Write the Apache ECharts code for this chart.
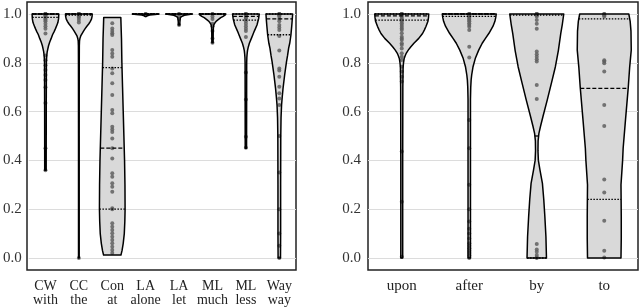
<!DOCTYPE html>
<html><head><meta charset="utf-8">
<script src="https://cdn.jsdelivr.net/npm/echarts@6/dist/echarts.min.js"></script>
<style>html,body{margin:0;padding:0;background:#fff}#c{width:640px;height:308px}</style>
</head><body><div id="c"></div>
<script>
// ---------- DATA ----------
const leftCategories = ['CW\nwith', 'CC\nthe', 'Con\nat', 'LA\nalone', 'LA\nlet', 'ML\nmuch', 'ML\nless', 'Way\nway'];
const rightCategories = ['upon', 'after', 'by', 'to'];

// violin density profiles: [value, relative density]
const profileCW = [[1.0,1],[0.98,0.98],[0.965,0.93],[0.955,0.86],[0.94,0.75],[0.927,0.64],[0.915,0.53],[0.9,0.43],[0.885,0.32],[0.87,0.23],[0.855,0.17],[0.845,0.13],[0.83,0.1],[0.815,0.08],[0.8,0.07],[0.6,0.06],[0.36,0.055]];
const profileCC = [[1.0,1],[0.99,0.99],[0.98,0.95],[0.97,0.86],[0.96,0.75],[0.95,0.6],[0.94,0.47],[0.93,0.35],[0.92,0.24],[0.91,0.14],[0.9,0.08],[0.89,0.05],[0.87,0.035],[0.8,0.03],[0.5,0.025],[0.0,0.025]];
const profileCon = [[0.986,0.64],[0.95,0.66],[0.9,0.69],[0.8,0.72],[0.7,0.77],[0.6,0.82],[0.5,0.87],[0.4,0.92],[0.3,0.95],[0.2,0.96],[0.15,0.94],[0.1,0.9],[0.06,0.82],[0.03,0.73],[0.012,0.65]];
const profileLAalone = [[1.0,1],[0.998,0.7],[0.996,0.3],[0.993,0.12],[0.99,0.05]];
const profileLAlet = [[1.0,1],[0.998,0.75],[0.995,0.4],[0.99,0.18],[0.985,0.1],[0.975,0.07],[0.955,0.05]];
const profileMLmuch = [[1.0,1],[0.995,0.93],[0.99,0.8],[0.985,0.62],[0.98,0.5],[0.975,0.38],[0.97,0.28],[0.965,0.2],[0.96,0.14],[0.955,0.1],[0.945,0.07],[0.93,0.055],[0.9,0.05],[0.882,0.045]];
const profileMLless = [[1.0,1],[0.98,0.95],[0.955,0.83],[0.93,0.63],[0.915,0.52],[0.9,0.41],[0.88,0.26],[0.865,0.18],[0.85,0.12],[0.835,0.09],[0.82,0.07],[0.8,0.06],[0.6,0.055],[0.45,0.05]];
const profileWay = [[1.0,1],[0.97,0.96],[0.95,0.93],[0.914,0.87],[0.88,0.78],[0.86,0.7],[0.83,0.62],[0.805,0.54],[0.75,0.4],[0.695,0.28],[0.66,0.22],[0.627,0.17],[0.574,0.13],[0.5,0.11],[0.3,0.1],[0.1,0.1],[0.0,0.09]];

const profileUpon = [[1.0,1],[0.985,0.99],[0.97,0.97],[0.95,0.9],[0.935,0.84],[0.92,0.77],[0.9,0.63],[0.88,0.45],[0.865,0.33],[0.852,0.24],[0.84,0.17],[0.83,0.13],[0.818,0.09],[0.8,0.065],[0.78,0.05],[0.7,0.04],[0.4,0.035],[0.0,0.035]];
const profileAfter = [[1.0,1],[0.985,0.98],[0.97,0.95],[0.95,0.88],[0.921,0.73],[0.9,0.6],[0.88,0.48],[0.852,0.35],[0.82,0.23],[0.784,0.14],[0.75,0.09],[0.73,0.07],[0.7,0.055],[0.65,0.045],[0.5,0.045],[0.0,0.045]];
const profileBy = [[1.0,1],[0.96,0.95],[0.921,0.89],[0.85,0.8],[0.784,0.69],[0.72,0.55],[0.648,0.39],[0.58,0.23],[0.54,0.14],[0.511,0.08],[0.48,0.05],[0.44,0.045],[0.4,0.06],[0.36,0.12],[0.306,0.21],[0.24,0.26],[0.17,0.3],[0.087,0.34],[0.0,0.36]];
const profileTo = [[1.0,0.91],[0.97,0.96],[0.93,0.99],[0.852,1.0],[0.78,0.94],[0.7,0.89],[0.57,0.79],[0.45,0.7],[0.4,0.68],[0.3,0.62],[0.17,0.63],[0.08,0.63],[0.0,0.62]];

// quartiles: [Q1, median, Q3]
const quartilesCW = [0.986, 1.0, 1.0];
const quartilesCC = [0.995, 1.0, 1.0];
const quartilesCon = [0.2, 0.45, 0.78];
const quartilesLAalone = [1.0, 1.0, 1.0];
const quartilesLAlet = [1.0, 1.0, 1.0];
const quartilesMLmuch = [1.0, 1.0, 1.0];
const quartilesMLless = [0.975, 0.99, 1.0];
const quartilesWay = [0.915, 0.98, 1.0];
const quartilesUpon = [0.975, 0.992, 1.0];
const quartilesAfter = [0.99, 1.0, 1.0];
const quartilesBy = [0.0, 0.5, 0.996];
const quartilesTo = [0.24, 0.695, 0.98];

// individual observations
const pointsCW = [1,1,1,1,1,0.995,0.99,0.985,0.98,0.975,0.97,0.96,0.95,0.94,0.92,0.83,0.81,0.79,0.77,0.75,0.73,0.7,0.635,0.45,0.36];
const pointsCC = [1,1,1,1,0.995,0.99,0.985,0.975,0.965,0.0];
const pointsCon = [0.962,0.941,0.93,0.921,0.914,0.852,0.838,0.825,0.777,0.757,0.716,0.668,0.607,0.593,0.538,0.527,0.516,0.49,0.45,0.408,0.347,0.333,0.306,0.292,0.272,0.204,0.2,0.142,0.128,0.115,0.101,0.087,0.074,0.06,0.046,0.033,0.02];
const pointsLAalone = [1,1,0.998,0.995];
const pointsLAlet = [1,1,0.99,0.98,0.955];
const pointsMLmuch = [1,1,0.99,0.98,0.96,0.95,0.93,0.9,0.882];
const pointsMLless = [1,1,1,0.995,0.99,0.985,0.98,0.97,0.96,0.95,0.94,0.93,0.906,0.76,0.65,0.497,0.452];
const pointsWay = [1,1,1,0.995,0.99,0.98,0.97,0.955,0.945,0.934,0.91,0.85,0.777,0.768,0.743,0.702,0.675,0.654,0.627,0.5,0.35,0.2,0.1,0.05,0.0];
const pointsUpon = [1,1,1,0.996,0.989,0.982,0.975,0.969,0.962,0.955,0.948,0.941,0.934,0.921,0.907,0.9,0.893,0.88,0.873,0.859,0.839,0.825,0.811,0.784,0.764,0.743,0.723,0.436,0.231,0.005];
const pointsAfter = [1,1,1,0.995,0.99,0.985,0.98,0.975,0.97,0.962,0.955,0.948,0.934,0.866,0.822,0.566,0.45,0.3,0.2,0.15,0.12,0.1,0.08,0.06,0.05,0.04,0.03,0.02,0.01,0.0];
const pointsBy = [1,1,1,0.995,0.99,0.975,0.96,0.94,0.846,0.835,0.825,0.815,0.805,0.709,0.652,0.057,0.035,0.026,0.012,0.003,0.0];
const pointsTo = [1,1,0.995,0.99,0.81,0.805,0.798,0.764,0.627,0.541,0.322,0.268,0.153,0.03,0.002];

const leftProfiles = [profileCW, profileCC, profileCon, profileLAalone, profileLAlet, profileMLmuch, profileMLless, profileWay];
const leftQuartiles = [quartilesCW, quartilesCC, quartilesCon, quartilesLAalone, quartilesLAlet, quartilesMLmuch, quartilesMLless, quartilesWay];
const leftPoints = [pointsCW, pointsCC, pointsCon, pointsLAalone, pointsLAlet, pointsMLmuch, pointsMLless, pointsWay];
const rightProfiles = [profileUpon, profileAfter, profileBy, profileTo];
const rightQuartiles = [quartilesUpon, quartilesAfter, quartilesBy, quartilesTo];
const rightPoints = [pointsUpon, pointsAfter, pointsBy, pointsTo];

// ---------- RENDER ----------
const FONT = '"Liberation Serif", "DejaVu Serif", serif';
const MAXW = 0.8;

function widthAt(prof, q) {
  if (q >= prof[0][0]) return prof[0][1];
  for (let k = 0; k < prof.length - 1; k++) {
    const a = prof[k], b = prof[k + 1];
    if (q <= a[0] && q >= b[0]) {
      const t = (a[0] - q) / (a[0] - b[0] || 1);
      return a[1] + (b[1] - a[1]) * t;
    }
  }
  return prof[prof.length - 1][1];
}

function violinPoints(prof, cat, api) {
  const band = api.size([1, 0])[0];
  const half = band * MAXW / 2;
  const right = [], left = [];
  prof.forEach(function (pv) {
    const p = api.coord([cat, pv[0]]);
    right.push([p[0] + pv[1] * half, p[1]]);
    left.push([p[0] - pv[1] * half, p[1]]);
  });
  return { pts: right.concat(left.reverse()), half: half };
}

function makeFill(profiles) {
  return function (params, api) {
    const v = violinPoints(profiles[params.dataIndex], api.value(0), api);
    return { type: 'polygon', shape: { points: v.pts }, style: { fill: '#d9d9d9', stroke: null } };
  };
}

function makeOutline(profiles, quartiles) {
  return function (params, api) {
    const i = params.dataIndex;
    const cat = api.value(0);
    const prof = profiles[i];
    const v = violinPoints(prof, cat, api);
    const children = [{
      type: 'polygon', shape: { points: v.pts },
      style: { fill: null, stroke: '#000', lineWidth: 1.5, lineJoin: 'round' }
    }];
    quartiles[i].forEach(function (q, k) {
      const p = api.coord([cat, q]);
      const w = widthAt(prof, q) * v.half;
      children.push({
        type: 'line',
        shape: { x1: p[0] - w, y1: p[1], x2: p[0] + w, y2: p[1] },
        style: { stroke: '#000', lineWidth: 1.3, lineDash: k === 1 ? [4, 2] : [1.5, 1.5] }
      });
    });
    return { type: 'group', children: children };
  };
}

function pointData(list) {
  const out = [];
  list.forEach(function (arr, i) { arr.forEach(function (v) { out.push([i, v]); }); });
  return out;
}

const yAxisBase = function (gi) {
  return {
    type: 'value', gridIndex: gi, min: 0, max: 1, interval: 0.2,
    axisLine: { show: false }, axisTick: { show: false },
    axisLabel: { formatter: function (v) { return v.toFixed(1); }, margin: 7, color: '#333', fontFamily: FONT, fontSize: 15 },
    splitLine: { show: true, lineStyle: { color: '#dcdcdc', width: 1 } }
  };
};

const chart = echarts.init(document.getElementById('c'), null, { renderer: 'canvas' });
const catData = function (cats) { return cats.map(function (c, i) { return [i, 1]; }); };
chart.setOption({
  animation: false,
  backgroundColor: '#fff',
  grid: [
    { left: 27, top: 2, width: 269, height: 268, show: true, borderColor: '#222', borderWidth: 1.5, backgroundColor: 'transparent' },
    { left: 368, top: 2, width: 270, height: 268, show: true, borderColor: '#222', borderWidth: 1.5, backgroundColor: 'transparent' },
    { left: 27, top: 14, width: 269, height: 244 },
    { left: 368, top: 14, width: 270, height: 244 }
  ],
  xAxis: [
    { type: 'value', gridIndex: 0, show: false },
    { type: 'value', gridIndex: 1, show: false },
    { type: 'category', gridIndex: 2, data: leftCategories, boundaryGap: true,
      axisLine: { show: false }, axisTick: { show: false }, splitLine: { show: false },
      axisLabel: { margin: 21, color: '#222', fontFamily: FONT, fontSize: 14, lineHeight: 14, interval: 0 } },
    { type: 'category', gridIndex: 3, data: rightCategories, boundaryGap: true,
      axisLine: { show: false }, axisTick: { show: false }, splitLine: { show: false },
      axisLabel: { margin: 21, color: '#222', fontFamily: FONT, fontSize: 15, interval: 0 } }
  ],
  yAxis: [
    { type: 'value', gridIndex: 0, show: false },
    { type: 'value', gridIndex: 1, show: false },
    yAxisBase(2),
    yAxisBase(3)
  ],
  series: [
    { type: 'custom', xAxisIndex: 2, yAxisIndex: 2, renderItem: makeFill(leftProfiles), data: catData(leftCategories), z: 2, silent: true },
    { type: 'custom', xAxisIndex: 3, yAxisIndex: 3, renderItem: makeFill(rightProfiles), data: catData(rightCategories), z: 2, silent: true },
    { type: 'scatter', xAxisIndex: 2, yAxisIndex: 2, data: pointData(leftPoints), symbolSize: 4,
      itemStyle: { color: '#5f5f5f', opacity: 0.85 }, z: 3, silent: true },
    { type: 'scatter', xAxisIndex: 3, yAxisIndex: 3, data: pointData(rightPoints), symbolSize: 4,
      itemStyle: { color: '#5f5f5f', opacity: 0.85 }, z: 3, silent: true },
    { type: 'custom', xAxisIndex: 2, yAxisIndex: 2, renderItem: makeOutline(leftProfiles, leftQuartiles), data: catData(leftCategories), z: 4, silent: true },
    { type: 'custom', xAxisIndex: 3, yAxisIndex: 3, renderItem: makeOutline(rightProfiles, rightQuartiles), data: catData(rightCategories), z: 4, silent: true }
  ]
});
</script>
</body></html>
